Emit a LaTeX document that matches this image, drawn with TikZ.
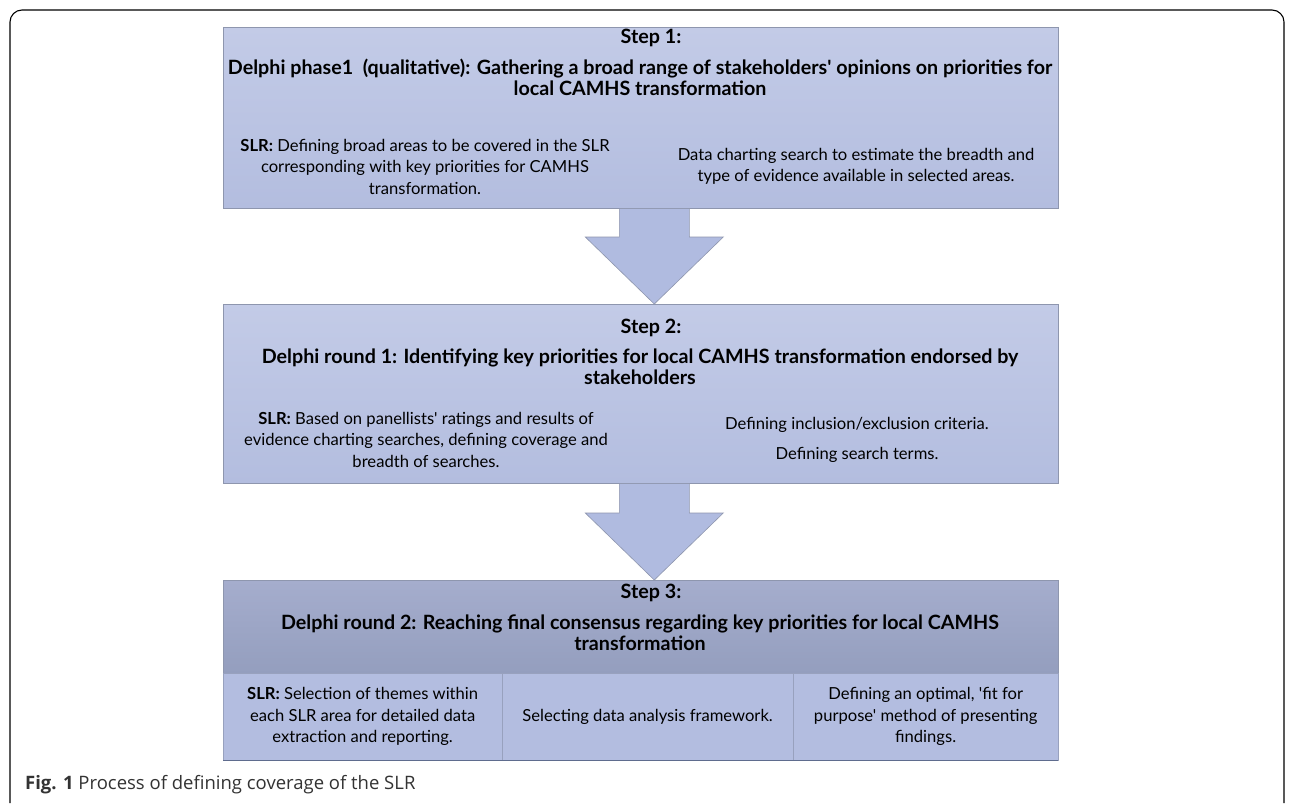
\documentclass[tikz,border=0pt]{standalone}
\usepackage{fontspec}
\newfontfamily\boxfont{Lato}
\newfontfamily\capfont{Open Sans}
\usetikzlibrary{calc}
\definecolor{boxtop}{HTML}{C3CBE7}
\definecolor{boxbot}{HTML}{B3BDDF}
\definecolor{hdtop}{HTML}{A5ADCD}
\definecolor{hdbot}{HTML}{949EBE}
\definecolor{cellc}{HTML}{B3BDE0}
\definecolor{edgec}{HTML}{8E96AE}
\definecolor{arrowc}{HTML}{B0BBE0}
\definecolor{capc}{HTML}{333333}
\definecolor{bottomline}{HTML}{5F6C8E}
\tikzset{
  lightbox/.style={draw=edgec, line width=0.6pt, top color=boxtop, bottom color=boxbot, inner sep=0pt, anchor=north west},
  headbox/.style={draw=edgec, line width=0.6pt, top color=hdtop, bottom color=hdbot, inner sep=0pt, anchor=north west},
  cellbox/.style={draw=cellc!85!black, line width=0.3pt, fill=cellc, inner sep=0pt, anchor=north west, minimum height=87pt},
  bigarrow/.style={fill=arrowc, draw=edgec, line width=0.6pt, line join=miter},
  headtxt/.style={font=\boxfont\fontsize{19.7}{21}\selectfont\bfseries, align=center, inner sep=0pt},
  bodytxt/.style={font=\boxfont\fontsize{16.6}{21.5}\selectfont, align=center, inner sep=0pt},
}
\begin{document}
\begin{tikzpicture}[x=1pt, y=-1pt]
\useasboundingbox (0,0) rectangle (1292,803);
\fill[white] (0,0) rectangle (1292,803);
% outer frame
\draw[line width=1.1pt, rounded corners=12pt] (10,803) -- (10,10) -- (1284,10) -- (1284,803);
% boxes
\node[lightbox, minimum width=835pt, minimum height=181pt] (b1) at (223,27) {};
\node[lightbox, minimum width=835pt, minimum height=179pt] (b2) at (223,304) {};
\node[headbox, minimum width=835pt, minimum height=93pt] (b3) at (223,580) {};
\node[cellbox, minimum width=279pt] (c1) at (223,673) {};
\node[cellbox, minimum width=291pt] (c2) at (502,673) {};
\node[cellbox, minimum width=265pt] (c3) at (793,673) {};
\draw[draw=bottomline, line width=1.6pt] (c1.south west) -- (c3.south east);
% arrows
\coordinate (t1) at ($(b2.north)+(13.5,0)$);
\coordinate (t2) at ($(b3.north)+(13.5,0)$);
\path[bigarrow] (t1) -- ($(t1)+(-69,-67)$) -- ($(t1)+(-35,-67)$) -- ($(t1 |- b1.south)+(-35,0)$) -- ($(t1 |- b1.south)+(35,0)$) -- ($(t1)+(35,-67)$) -- ($(t1)+(69,-67)$) -- cycle;
\path[bigarrow] (t2) -- ($(t2)+(-69,-67)$) -- ($(t2)+(-35,-67)$) -- ($(t2 |- b2.south)+(-35,0)$) -- ($(t2 |- b2.south)+(35,0)$) -- ($(t2)+(35,-67)$) -- ($(t2)+(69,-67)$) -- cycle;
% step 1 text
\node[headtxt] (s1) at (651,38) {Step 1:};
\node[headtxt] (h1) at (640,77.5) {Delphi phase1\ \ (qualitative): Gathering a broad range of stakeholders' opinions on priorities for\\ local CAMHS transformation};
\node[bodytxt] (l1) at (425,166.5) {\textbf{SLR:} Defining broad areas to be covered in the SLR\\ corresponding with key priorities for CAMHS\\ transformation.};
\node[bodytxt] (r1) at (856,166.5) {Data charting search to estimate the breadth and\\ type of evidence available in selected areas.};
% step 2 text
\node[headtxt] (s2) at (651,328) {Step 2:};
\node[headtxt] (h2) at (640,367) {Delphi round 1: Identifying key priorities for local CAMHS transformation endorsed by\\ stakeholders};
\node[bodytxt] (l2) at (426,439.5) {\textbf{SLR:} Based on panellists' ratings and results of\\ evidence charting searches, defining coverage and\\ breadth of searches.};
\node[bodytxt] (r2a) at (857,425) {Defining inclusion/exclusion criteria.};
\node[bodytxt] (r2b) at (857,455) {Defining search terms.};
% step 3 text
\node[headtxt] (s3) at (651,593) {Step 3:};
\node[headtxt] (h3) at (640,633) {Delphi round 2: Reaching final consensus regarding key priorities for local CAMHS\\ transformation};
\node[bodytxt] (t3a) at (c1.center) {\textbf{SLR:} Selection of themes within\\ each SLR area for detailed data\\ extraction and reporting.};
\node[bodytxt] (t3b) at (c2.center) {Selecting data analysis framework.};
\node[bodytxt] (t3c) at (c3.center) {Defining an optimal, 'fit for\\ purpose' method of presenting\\ findings.};
% caption
\node[anchor=west, inner sep=0pt, text=capc, font=\capfont\fontsize{18.5}{21}\selectfont] (cap) at (25,785) {\textbf{Fig. 1} Process of defining coverage of the SLR};
\end{tikzpicture}
\end{document}
